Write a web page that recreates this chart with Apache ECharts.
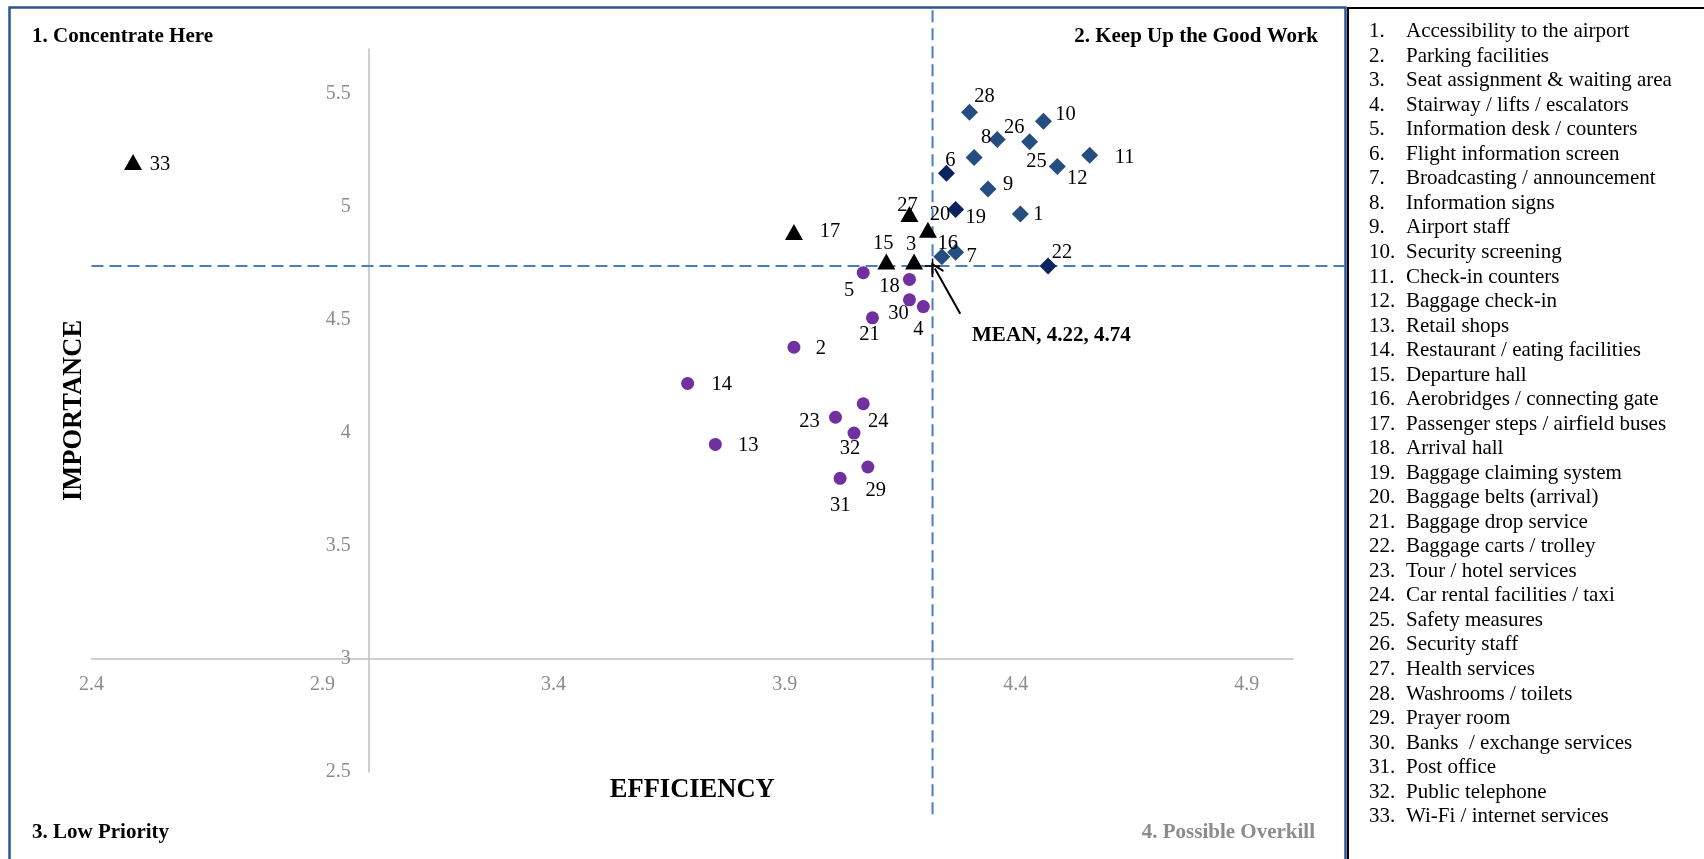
<!DOCTYPE html>
<html><head><meta charset="utf-8">
<script src="https://cdn.jsdelivr.net/npm/echarts@6/dist/echarts.min.js"></script>
<style>html,body{margin:0;padding:0;background:#fff}#c{width:1704px;height:859px}</style>
</head><body><div id="c"></div>
<script>
// ---- data ----
const ids        = [1,2,3,4,5,6,7,8,9,10,11,12,13,14,15,16,17,18,19,20,21,22,23,24,25,26,27,28,29,30,31,32,33];
const efficiency = [4.41,3.92,4.18,4.20,4.07,4.25,4.27,4.31,4.34,4.46,4.56,4.49,3.75,3.69,4.12,4.24,3.92,4.17,4.27,4.21,4.09,4.47,4.01,4.07,4.43,4.36,4.17,4.30,4.08,4.17,4.02,4.05,2.49];
const importance = [4.97,4.38,4.76,4.56,4.71,5.15,4.80,5.22,5.08,5.38,5.23,5.18,3.95,4.22,4.76,4.78,4.89,4.68,4.99,4.90,4.51,4.74,4.07,4.13,5.29,5.30,4.97,5.42,3.85,4.59,3.80,4.00,5.20];
const keepUpIds     = [1,7,8,9,10,11,12,16,25,26,28];
const keepUpDarkIds = [6,19,22];
const triangleIds   = [3,15,17,20,27,33];
const circleIds     = [2,4,5,13,14,18,21,23,24,29,30,31,32];
const itemNames = ["Accessibility to the airport","Parking facilities","Seat assignment & waiting area","Stairway / lifts / escalators","Information desk / counters","Flight information screen","Broadcasting / announcement","Information signs","Airport staff","Security screening","Check-in counters","Baggage check-in","Retail shops","Restaurant / eating facilities","Departure hall","Aerobridges / connecting gate","Passenger steps / airfield buses","Arrival hall","Baggage claiming system","Baggage belts (arrival)","Baggage drop service","Baggage carts / trolley","Tour / hotel services","Car rental facilities / taxi","Safety measures","Security staff","Health services","Washrooms / toilets","Prayer room","Banks  / exchange services","Post office","Public telephone","Wi-Fi / internet services"];
const xTicks = [2.4,2.9,3.4,3.9,4.4,4.9];
const yTicks = [2.5,3,3.5,4,4.5,5,5.5];
const meanEfficiency = 4.22;
const meanImportance = 4.74;
const meanLabel = "MEAN, 4.22, 4.74";
const quadrantNames = ["1. Concentrate Here","2. Keep Up the Good Work","3. Low Priority","4. Possible Overkill"];
const xTitle = "EFFICIENCY", yTitle = "IMPORTANCE";
const axisCross = [3, 3];

// ---- styles ----
const FONT = '"Liberation Serif","Times New Roman",serif';
const labelOffsets = {1:[18,1],2:[27,1],3:[-3,-17],4:[-5,23],5:[-14,18],6:[4,-13],7:[16,4],8:[12,-20],9:[20,-4],10:[22,-7],11:[35,2],12:[20,12],13:[33,1],14:[34,1],15:[-3,-18],16:[6,-13],17:[36,0],18:[-20,7],19:[20,8],20:[12,-15],21:[-3,17],22:[14,-13],23:[-26,4],24:[15,18],25:[7,20],26:[17,-12],27:[-2,-8],28:[15,-16],29:[8,24],30:[-11,14],31:[0,27],32:[-4,16],33:[27,3]};
const guideYTop = 5.872, guideYBottom = 2.303, guideXLeft = 2.4, guideXRight = 5.113;
const arrowTail = [4.28, 4.528], arrowTip = [4.225, 4.728];
const guideStyle = {color:'#4a7ebb', width:2, type:[12,6]};

function pts(list){
  return list.map(id=>{
    const i = ids.indexOf(id);
    return {value:[efficiency[i], importance[i]], name:String(id), label:{offset:labelOffsets[id]}};
  });
}
const dataLabel = {show:true, position:'inside', formatter:'{b}', color:'#000', fontFamily:FONT, fontSize:20.5};

const chart = echarts.init(document.getElementById('c'));
const option = {
  animation:false,
  textStyle:{fontFamily:FONT},
  grid:{left:91.5, top:49, width:1201.5, height:723, containLabel:false, outerBoundsMode:'none'},
  xAxis:{type:'value', min:2.4, max:5.0,
    axisLine:{show:true, lineStyle:{color:'#bfbfbf', width:1.5}},
    axisTick:{show:false}, splitLine:{show:false},
    axisLabel:{customValues:xTicks, color:'#8c8c8c', fontSize:20, fontFamily:FONT, margin:16, formatter:v=>String(+v.toFixed(1))},
    name:xTitle, nameLocation:'middle', nameGap:118,
    nameTextStyle:{fontFamily:FONT, fontWeight:'bold', fontSize:26.5, color:'#000'}
  },
  yAxis:{type:'value', min:2.5, max:5.7,
    axisLine:{show:true, lineStyle:{color:'#bfbfbf', width:1.5}},
    axisTick:{show:false}, splitLine:{show:false},
    axisLabel:{customValues:yTicks, color:'#8c8c8c', fontSize:20, fontFamily:FONT, margin:18, formatter:v=>String(+v.toFixed(1))},
    name:yTitle, nameLocation:'middle', nameGap:281, nameRotate:90,
    nameTextStyle:{fontFamily:FONT, fontWeight:'bold', fontSize:26.5, color:'#000'}
  },
  series:[
    {type:'line', silent:true, clip:false, symbol:'none', z:1,
      data:[[meanEfficiency, guideYTop],[meanEfficiency, guideYBottom]],
      lineStyle:guideStyle},
    {type:'scatter', z:3, symbol:'circle', symbolSize:13, itemStyle:{color:'#7030a0', opacity:1}, label:dataLabel, data:pts(circleIds)},
    {type:'scatter', z:3, symbol:'triangle', symbolSize:[18,16], itemStyle:{color:'#000', opacity:1}, label:dataLabel, data:pts(triangleIds)},
    {type:'scatter', z:3, symbol:'diamond', symbolSize:17, itemStyle:{color:'#254d7f', opacity:1}, label:dataLabel, data:pts(keepUpIds)},
    {type:'scatter', z:3, symbol:'diamond', symbolSize:17, itemStyle:{color:'#0b2361', opacity:1}, label:dataLabel, data:pts(keepUpDarkIds)},
    {type:'scatter', z:4, symbol:'path://M4.5,0 H5.5 V4.5 H10 V5.5 H5.5 V10 H4.5 V5.5 H0 V4.5 H4.5 Z', symbolSize:15,
      itemStyle:{color:'#000', opacity:1},
      label:{show:true, position:'right', offset:[27,70], formatter:meanLabel, color:'#000', fontFamily:FONT, fontSize:21, fontWeight:'bold'},
      data:[[meanEfficiency, meanImportance]],
      markLine:{silent:true, animation:false, symbol:['none','path://M5,0 L10,9 L9,10 L5,2.6 L1,10 L0,9 Z'], symbolSize:[14,14],
        lineStyle:{color:'#000', width:2, type:'solid', opacity:1}, label:{show:false},
        data:[[{coord:arrowTail},{coord:arrowTip}]]}
    }
  ],
  graphic:[]
};

const g = [];
g.push({type:'rect', z:0, shape:{x:9.5, y:7.5, width:1336, height:900}, style:{fill:'none', stroke:'#2c5491', lineWidth:2.5}});
g.push({type:'rect', z:0, shape:{x:1348, y:8, width:400, height:900}, style:{fill:'none', stroke:'#000', lineWidth:2}});
const qFont = 'bold 21px ' + FONT;
const qPos = [[32,37,'left','#000'],[1318,37,'right','#000'],[32,833,'left','#000'],[1315,833,'right','#8c8c8c']];
quadrantNames.forEach((t,i)=>{
  g.push({type:'text', z:10, x:qPos[i][0], y:qPos[i][1], style:{text:t, font:qFont, fill:qPos[i][3], textAlign:qPos[i][2], align:qPos[i][2], textVerticalAlign:'middle', verticalAlign:'middle'}});
});
itemNames.forEach((t,i)=>{
  const y = 31.7 + i*24.53;
  g.push({type:'text', z:10, x:1369, y:y, style:{text:(i+1)+'.', font:'21px '+FONT, fill:'#000', textAlign:'left', align:'left', textVerticalAlign:'middle', verticalAlign:'middle'}});
  g.push({type:'text', z:10, x:1406, y:y, style:{text:t, font:'21px '+FONT, fill:'#000', textAlign:'left', align:'left', textVerticalAlign:'middle', verticalAlign:'middle'}});
});
option.graphic = g;
chart.setOption(option);

// place the axis lines where they cross (x = 3, y = 3), as in the original; iterate so the layout settles
for (let k = 0; k < 3; k++) {
  const yMin = chart.convertToPixel({yAxisIndex:0}, 2.5), yC = chart.convertToPixel({yAxisIndex:0}, axisCross[1]);
  const xMin = chart.convertToPixel({xAxisIndex:0}, 2.4), xC = chart.convertToPixel({xAxisIndex:0}, axisCross[0]);
  chart.setOption({xAxis:{offset:-(yMin-yC)}, yAxis:{offset:-(xC-xMin)}});
}
// horizontal mean guide runs past the plot to the panel edge
const pL = chart.convertToPixel({gridIndex:0}, [guideXLeft, meanImportance]);
const pR = chart.convertToPixel({gridIndex:0}, [guideXRight, meanImportance]);
g.push({type:'line', z:1, silent:true, shape:{x1:pL[0], y1:pL[1], x2:pR[0], y2:pR[1]},
  style:{stroke:guideStyle.color, lineWidth:guideStyle.width, lineDash:guideStyle.type}});
chart.setOption({graphic:g});
</script></body></html>
